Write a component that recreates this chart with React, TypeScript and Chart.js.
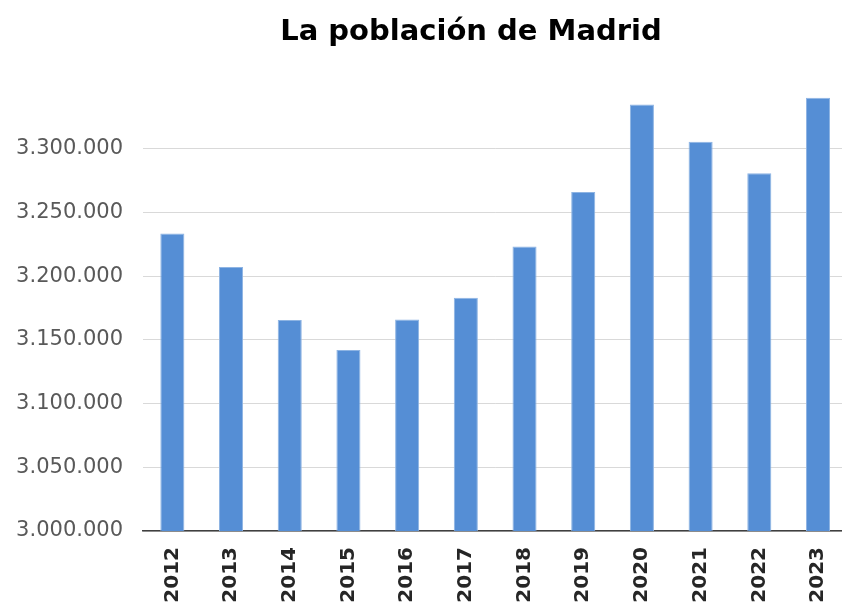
import React, { useEffect, useRef } from "react";
import { Chart, registerables } from "chart.js";

Chart.register(...registerables);

const TITLE = "La población de Madrid";
const YEARS = ["2012", "2013", "2014", "2015", "2016", "2017", "2018", "2019", "2020", "2021", "2022", "2023"];
const POPULATION = [3233527, 3207247, 3165541, 3141991, 3165883, 3182981, 3223334, 3266126, 3334730, 3305408, 3280782, 3339931];
const Y_MIN = 3000000;
const Y_MAX = 3350000;
const Y_STEP = 50000;
const Y_LAST_LABEL = 3300000;

const fmt = (v: number) => String(Math.round(v)).replace(/\B(?=(\d{3})+(?!\d))/g, ".");

export default function App() {
  const ref = useRef<HTMLCanvasElement | null>(null);

  useEffect(() => {
    document.body.style.margin = "0";
    const canvas = ref.current!;
    const chart = new Chart(canvas, {
      type: "bar",
      data: {
        labels: YEARS,
        datasets: [
          {
            data: POPULATION,
            backgroundColor: "#558ED5",
            borderColor: "#8EB4E3",
            borderWidth: 1,
            barPercentage: 0.41,
            categoryPercentage: 1,
          },
        ],
      },
      options: {
        responsive: false,
        animation: false,
        devicePixelRatio: 1,
        layout: { padding: { top: 85, left: 0, right: 0, bottom: 0 } },
        plugins: {
          legend: { display: false },
          title: { display: false },
          tooltip: { enabled: false },
        },
        scales: {
          x: {
            grid: { display: false, drawTicks: false },
            border: { display: true, color: "#404040", width: 1.5 },
            ticks: {
              minRotation: 90,
              maxRotation: 90,
              padding: 16,
              color: "#262626",
              font: { family: "DejaVu Sans", size: 20, weight: "bold" },
            },
            afterFit: (s: any) => {
              s.height = 74;
            },
          },
          y: {
            min: Y_MIN,
            max: Y_MAX,
            grid: {
              drawTicks: false,
              color: (ctx: any) => (ctx.tick && ctx.tick.value > Y_LAST_LABEL ? "rgba(0,0,0,0)" : "#D9D9D9"),
              lineWidth: 1,
            },
            border: { display: false },
            ticks: {
              stepSize: Y_STEP,
              padding: 20,
              color: "#595959",
              font: { family: "DejaVu Sans", size: 21 },
              callback: (v: any) => (Number(v) > Y_LAST_LABEL ? "" : fmt(Number(v))),
            },
            afterFit: (s: any) => {
              s.width = 143;
            },
          },
        },
      },
    });
    return () => chart.destroy();
  }, []);

  return (
    <div style={{ position: "fixed", left: 0, top: 0, width: 842, height: 605, overflow: "hidden", background: "#fff" }}>
      <canvas ref={ref} width={858} height={605} style={{ position: "absolute", left: 0, top: 0, width: 858, height: 605 }} />
      <div
        style={{
          position: "absolute",
          left: 221,
          width: 500,
          top: 10,
          textAlign: "center",
          fontFamily: "DejaVu Sans",
          fontWeight: "bold",
          fontSize: 29,
          lineHeight: "40px",
          color: "#000",
        }}
      >
        {TITLE}
      </div>
    </div>
  );
}
